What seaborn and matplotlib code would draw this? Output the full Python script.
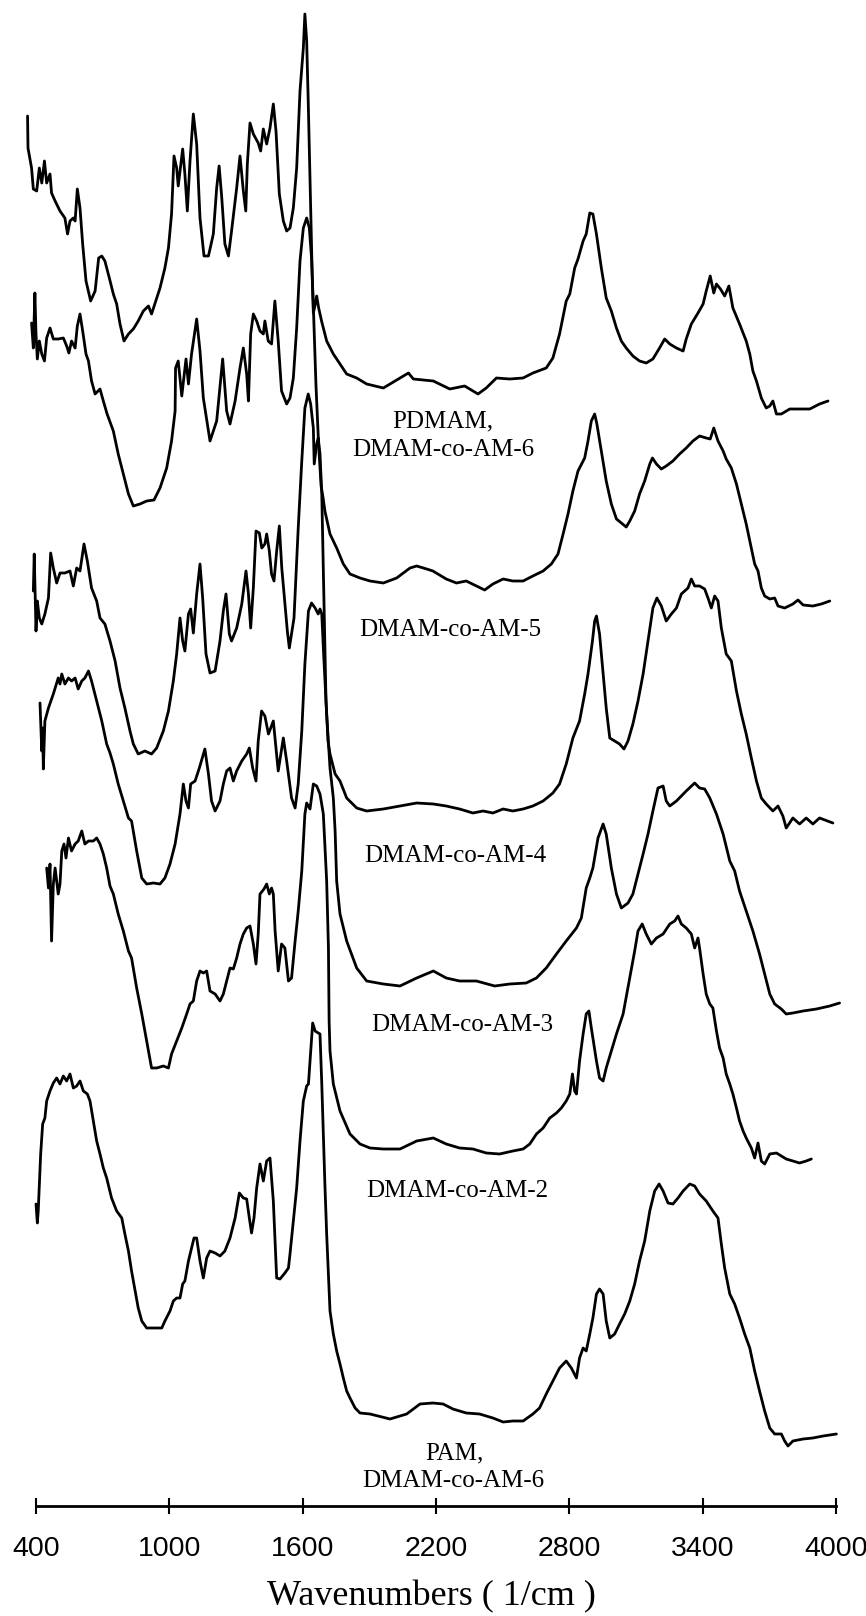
"""FTIR spectra of PDMAM, DMAM-co-AM copolymers and PAM (stacked, offset)."""

import matplotlib
matplotlib.use("Agg")
import matplotlib.pyplot as plt
import seaborn as sns

# (wavenumber 1/cm, transmittance a.u. incl. stacking offset)
spec_pdmam = [
    (362, 1390), (364, 1358), (380, 1338), (388, 1317), (403, 1315), (415, 1338), (426, 1323),
    (438, 1345), (448, 1323), (463, 1332), (470, 1313), (486, 1305), (508, 1295), (530, 1288),
    (542, 1272), (553, 1285), (568, 1288), (576, 1285), (586, 1317), (598, 1298), (610, 1262),
    (625, 1225), (646, 1205), (666, 1215), (682, 1248), (696, 1250), (710, 1245), (730, 1228),
    (748, 1212), (763, 1202), (778, 1182), (796, 1165), (816, 1172), (838, 1177), (860, 1185),
    (883, 1195), (906, 1200), (920, 1192), (936, 1203), (958, 1218), (980, 1238), (996, 1258),
    (1010, 1292), (1021, 1350), (1033, 1338), (1040, 1320), (1060, 1357), (1070, 1332),
    (1081, 1295), (1093, 1345), (1108, 1392), (1123, 1362), (1138, 1288), (1156, 1250),
    (1176, 1250), (1198, 1272), (1213, 1318), (1224, 1340), (1236, 1308), (1250, 1262),
    (1266, 1250), (1280, 1275), (1303, 1318), (1318, 1350), (1333, 1315), (1344, 1295),
    (1351, 1342), (1363, 1383), (1378, 1372), (1400, 1363), (1411, 1355), (1423, 1377),
    (1438, 1362), (1453, 1378), (1468, 1402), (1480, 1375), (1495, 1312), (1513, 1285),
    (1528, 1275), (1543, 1278), (1558, 1298), (1573, 1338), (1588, 1415), (1603, 1458),
    (1610, 1492), (1618, 1465), (1625, 1405), (1635, 1310), (1643, 1230), (1648, 1193),
    (1655, 1200), (1663, 1210), (1672, 1198), (1685, 1185), (1708, 1165), (1738, 1152),
    (1768, 1142), (1798, 1132), (1843, 1128), (1888, 1122), (1963, 1118), (2038, 1128),
    (2076, 1133), (2098, 1127), (2188, 1125), (2262, 1117), (2329, 1120), (2389, 1112),
    (2426, 1118), (2472, 1128), (2532, 1127), (2592, 1128), (2636, 1133), (2696, 1138),
    (2726, 1148), (2756, 1172), (2786, 1205), (2802, 1212), (2824, 1238), (2839, 1247),
    (2862, 1265), (2876, 1272), (2892, 1293), (2906, 1292), (2922, 1272), (2944, 1238),
    (2966, 1208), (2989, 1195), (3012, 1178), (3034, 1165), (3056, 1158), (3086, 1150),
    (3116, 1145), (3146, 1143), (3176, 1147), (3206, 1158), (3229, 1167), (3252, 1162),
    (3282, 1158), (3312, 1155), (3326, 1167), (3349, 1182), (3379, 1193), (3402, 1202),
    (3416, 1215), (3434, 1230), (3450, 1213), (3462, 1222), (3480, 1217), (3499, 1210),
    (3518, 1220), (3536, 1198), (3566, 1182), (3596, 1165), (3612, 1152), (3626, 1135),
    (3642, 1125), (3664, 1108), (3686, 1098), (3702, 1100), (3716, 1105), (3732, 1092),
    (3754, 1092), (3792, 1097), (3836, 1097), (3882, 1097), (3926, 1102), (3964, 1105),
]

spec_am6 = [
    (380, 1183), (388, 1158), (395, 1213), (400, 1172), (406, 1147), (415, 1165), (426, 1152),
    (438, 1145), (448, 1168), (463, 1178), (478, 1167), (500, 1167), (523, 1168), (538, 1160),
    (548, 1153), (560, 1165), (576, 1158), (586, 1180), (598, 1192), (610, 1175), (625, 1152),
    (636, 1145), (650, 1125), (666, 1112), (688, 1117), (703, 1105), (720, 1092), (748, 1075),
    (770, 1052), (793, 1032), (816, 1012), (838, 1000), (868, 1002), (898, 1005), (931, 1006),
    (958, 1018), (988, 1038), (1010, 1065), (1026, 1095), (1028, 1138), (1040, 1145),
    (1056, 1110), (1075, 1147), (1086, 1122), (1100, 1152), (1123, 1187), (1138, 1155),
    (1153, 1108), (1183, 1065), (1213, 1085), (1240, 1147), (1258, 1095), (1273, 1082),
    (1296, 1105), (1318, 1138), (1333, 1158), (1348, 1132), (1356, 1105), (1366, 1172),
    (1378, 1192), (1393, 1185), (1408, 1175), (1423, 1172), (1430, 1185), (1445, 1165),
    (1460, 1162), (1475, 1205), (1490, 1165), (1505, 1115), (1528, 1102), (1543, 1108),
    (1558, 1128), (1573, 1178), (1588, 1245), (1603, 1278), (1618, 1288), (1630, 1278),
    (1640, 1248), (1648, 1200), (1660, 1120), (1672, 1060), (1683, 1020), (1692, 1008),
    (1700, 995), (1723, 972), (1753, 958), (1783, 942), (1813, 932), (1858, 928), (1903, 925),
    (1963, 923), (2023, 928), (2083, 938), (2113, 940), (2158, 937), (2186, 935), (2246, 927),
    (2292, 923), (2336, 925), (2382, 920), (2419, 916), (2456, 922), (2502, 927), (2546, 925),
    (2592, 925), (2636, 930), (2682, 935), (2719, 942), (2749, 952), (2772, 972), (2794, 992),
    (2816, 1015), (2839, 1035), (2869, 1048), (2884, 1065), (2899, 1085), (2914, 1092),
    (2924, 1082), (2944, 1055), (2966, 1025), (2989, 1002), (3012, 987), (3034, 983),
    (3056, 979), (3072, 985), (3094, 995), (3116, 1012), (3139, 1025), (3162, 1042),
    (3174, 1048), (3192, 1042), (3214, 1037), (3236, 1040), (3266, 1045), (3296, 1052),
    (3326, 1058), (3356, 1065), (3386, 1070), (3416, 1068), (3434, 1067), (3450, 1078),
    (3469, 1065), (3492, 1055), (3506, 1047), (3529, 1038), (3552, 1022), (3574, 1002),
    (3596, 982), (3619, 958), (3634, 942), (3649, 935), (3664, 918), (3679, 910), (3702, 907),
    (3724, 908), (3739, 900), (3769, 898), (3806, 902), (3829, 906), (3852, 901), (3896, 900),
    (3934, 902), (3972, 905),
]

spec_am5 = [
    (388, 915), (392, 952), (400, 875), (406, 905), (415, 888), (426, 882), (440, 892),
    (456, 908), (466, 953), (478, 938), (493, 923), (508, 933), (530, 933), (553, 935),
    (568, 920), (583, 938), (598, 935), (616, 962), (631, 945), (650, 918), (673, 905),
    (688, 888), (710, 882), (733, 865), (756, 845), (778, 818), (800, 798), (823, 775),
    (838, 762), (860, 752), (890, 755), (920, 752), (943, 758), (973, 775), (996, 795),
    (1018, 825), (1033, 852), (1048, 888), (1060, 865), (1070, 855), (1086, 892), (1096, 897),
    (1108, 873), (1123, 912), (1138, 942), (1150, 908), (1165, 852), (1183, 833), (1206, 835),
    (1228, 865), (1243, 895), (1255, 912), (1270, 872), (1280, 865), (1303, 878), (1326, 902),
    (1345, 935), (1356, 912), (1366, 878), (1378, 918), (1390, 975), (1405, 973), (1416, 958),
    (1430, 962), (1438, 972), (1450, 955), (1460, 932), (1471, 925), (1483, 955), (1495, 980),
    (1506, 938), (1520, 902), (1531, 875), (1540, 858), (1550, 872), (1561, 888), (1580, 978),
    (1596, 1045), (1610, 1098), (1625, 1112), (1636, 1102), (1648, 1078), (1652, 1042),
    (1663, 1062), (1670, 1068), (1678, 1052), (1686, 1012), (1696, 905), (1705, 805),
    (1714, 765), (1723, 752), (1746, 732), (1768, 725), (1798, 708), (1843, 698), (1888, 695),
    (1963, 697), (2038, 700), (2113, 703), (2188, 702), (2246, 700), (2306, 697), (2366, 693),
    (2412, 695), (2456, 693), (2502, 697), (2546, 695), (2592, 697), (2636, 700), (2682, 705),
    (2726, 713), (2756, 722), (2786, 742), (2816, 768), (2846, 785), (2869, 812), (2884, 832),
    (2904, 865), (2914, 885), (2922, 890), (2936, 872), (2952, 832), (2966, 798), (2982, 768),
    (3004, 765), (3026, 762), (3046, 757), (3064, 765), (3086, 782), (3109, 805), (3132, 832),
    (3154, 865), (3176, 898), (3194, 908), (3214, 900), (3236, 885), (3259, 892), (3282, 898),
    (3304, 912), (3334, 918), (3349, 927), (3364, 920), (3386, 920), (3409, 917), (3424, 908),
    (3439, 898), (3454, 910), (3469, 905), (3484, 878), (3506, 852), (3529, 845), (3552, 815),
    (3574, 792), (3596, 772), (3619, 748), (3642, 725), (3664, 708), (3686, 702), (3716, 695),
    (3739, 700), (3761, 690), (3776, 678), (3806, 688), (3836, 682), (3866, 688), (3896, 682),
    (3926, 688), (3986, 683),
]

spec_am4 = [
    (418, 803), (426, 755), (430, 778), (433, 737), (440, 785), (456, 798), (478, 812),
    (500, 828), (508, 822), (516, 832), (530, 822), (546, 828), (560, 825), (576, 828),
    (590, 817), (606, 825), (620, 828), (636, 835), (650, 825), (673, 805), (696, 785),
    (718, 762), (733, 753), (748, 742), (770, 722), (793, 705), (816, 688), (830, 685),
    (853, 655), (876, 628), (898, 622), (928, 623), (958, 622), (980, 628), (1003, 642),
    (1026, 662), (1048, 692), (1063, 722), (1075, 705), (1086, 698), (1096, 722), (1116, 725),
    (1135, 738), (1160, 757), (1176, 732), (1190, 705), (1206, 695), (1228, 705), (1243, 722),
    (1258, 735), (1273, 738), (1288, 725), (1303, 735), (1326, 745), (1348, 752), (1360, 758),
    (1375, 738), (1390, 725), (1400, 765), (1415, 795), (1430, 790), (1446, 772), (1468, 785),
    (1490, 735), (1513, 768), (1528, 745), (1550, 708), (1566, 698), (1580, 722), (1596, 775),
    (1610, 842), (1626, 895), (1640, 903), (1656, 898), (1670, 892), (1678, 897), (1686, 892),
    (1693, 858), (1708, 792), (1723, 738), (1738, 708), (1746, 675), (1753, 625), (1768, 592),
    (1798, 565), (1843, 538), (1888, 525), (1963, 522), (2038, 520), (2113, 528), (2188, 535),
    (2246, 528), (2306, 525), (2382, 525), (2464, 520), (2532, 522), (2606, 523), (2652, 528),
    (2696, 538), (2742, 552), (2786, 565), (2832, 578), (2854, 588), (2876, 618), (2892, 628),
    (2906, 638), (2929, 668), (2952, 682), (2966, 672), (2989, 638), (3012, 612), (3034, 598),
    (3064, 603), (3086, 612), (3109, 632), (3132, 652), (3154, 672), (3176, 695), (3199, 718),
    (3222, 720), (3236, 705), (3252, 700), (3282, 705), (3326, 715), (3364, 723), (3386, 718),
    (3409, 717), (3432, 708), (3462, 692), (3492, 672), (3522, 645), (3544, 635), (3566, 615),
    (3596, 595), (3626, 575), (3656, 552), (3679, 532), (3702, 512), (3724, 502), (3754, 497),
    (3776, 492), (3806, 493), (3852, 495), (3912, 497), (3972, 500), (4016, 503),
]

spec_am3 = [
    (448, 638), (456, 618), (463, 642), (470, 565), (478, 622), (486, 638), (500, 612),
    (508, 622), (516, 655), (526, 662), (535, 648), (546, 668), (560, 655), (576, 662),
    (590, 665), (606, 675), (620, 662), (636, 665), (658, 665), (673, 668), (688, 662),
    (703, 652), (718, 638), (733, 620), (748, 612), (770, 592), (793, 575), (816, 555),
    (830, 548), (853, 518), (876, 492), (898, 465), (920, 438), (943, 438), (973, 440),
    (996, 438), (1010, 452), (1033, 465), (1056, 478), (1078, 492), (1093, 502), (1108, 505),
    (1123, 525), (1138, 535), (1153, 533), (1168, 535), (1183, 515), (1206, 512), (1228, 505),
    (1243, 512), (1258, 525), (1273, 538), (1288, 537), (1303, 548), (1318, 562), (1333, 572),
    (1348, 578), (1363, 580), (1378, 562), (1390, 542), (1400, 572), (1408, 612), (1426, 617),
    (1438, 622), (1450, 612), (1460, 618), (1468, 612), (1476, 575), (1490, 535), (1505, 562),
    (1520, 558), (1536, 525), (1550, 528), (1566, 565), (1580, 595), (1596, 635), (1610, 692),
    (1618, 703), (1633, 697), (1648, 722), (1663, 720), (1678, 712), (1693, 692), (1708, 625),
    (1716, 558), (1719, 485), (1723, 455), (1738, 422), (1768, 395), (1813, 372), (1858, 362),
    (1903, 358), (1963, 357), (2038, 357), (2113, 365), (2188, 368), (2246, 362), (2306, 358),
    (2366, 357), (2426, 353), (2486, 352), (2546, 355), (2592, 357), (2622, 362), (2652, 372),
    (2682, 378), (2712, 388), (2742, 393), (2764, 398), (2786, 405), (2802, 412), (2814, 432),
    (2824, 415), (2832, 412), (2846, 445), (2862, 472), (2876, 492), (2888, 495), (2899, 478),
    (2922, 445), (2936, 428), (2952, 425), (2966, 438), (2989, 455), (3012, 472), (3042, 492),
    (3072, 528), (3094, 555), (3109, 575), (3128, 582), (3146, 572), (3169, 562), (3192, 568),
    (3222, 572), (3252, 582), (3274, 585), (3289, 590), (3304, 582), (3326, 578), (3349, 572),
    (3364, 558), (3379, 568), (3386, 558), (3402, 532), (3416, 512), (3432, 502), (3446, 498),
    (3462, 475), (3476, 458), (3492, 448), (3506, 432), (3522, 422), (3536, 412), (3552, 398),
    (3566, 385), (3582, 375), (3596, 368), (3619, 358), (3634, 348), (3649, 363), (3664, 345),
    (3679, 342), (3702, 352), (3732, 353), (3754, 350), (3776, 347), (3806, 345), (3836, 343),
    (3866, 345), (3889, 347),
]

spec_pam = [
    (400, 302), (406, 283), (410, 295), (415, 322), (421, 352), (430, 382), (440, 388),
    (448, 405), (463, 415), (478, 423), (493, 428), (508, 422), (523, 430), (538, 425),
    (553, 432), (568, 418), (583, 420), (598, 425), (613, 415), (631, 412), (643, 405),
    (658, 385), (673, 365), (688, 352), (703, 338), (718, 328), (740, 308), (763, 295),
    (786, 288), (800, 272), (816, 255), (830, 235), (846, 215), (860, 198), (876, 185),
    (898, 178), (928, 178), (966, 178), (980, 185), (1003, 195), (1018, 205), (1033, 208),
    (1048, 208), (1060, 222), (1070, 225), (1086, 245), (1100, 258), (1111, 268), (1123, 268),
    (1138, 245), (1153, 228), (1168, 248), (1183, 255), (1206, 253), (1228, 250), (1250, 255),
    (1273, 268), (1296, 288), (1315, 313), (1333, 308), (1348, 307), (1360, 288), (1370, 273),
    (1381, 288), (1393, 318), (1408, 342), (1423, 325), (1438, 345), (1453, 348), (1468, 305),
    (1483, 228), (1498, 227), (1520, 233), (1536, 238), (1543, 252), (1558, 285), (1573, 318),
    (1588, 365), (1603, 405), (1618, 420), (1626, 422), (1633, 445), (1645, 483), (1656, 475),
    (1670, 473), (1678, 472), (1686, 422), (1693, 372), (1700, 322), (1708, 272), (1723, 195),
    (1738, 172), (1753, 155), (1768, 142), (1783, 128), (1798, 115), (1813, 108), (1836, 98),
    (1858, 93), (1903, 92), (1993, 87), (2068, 92), (2128, 102), (2186, 103), (2232, 102),
    (2276, 97), (2336, 93), (2396, 92), (2456, 88), (2502, 84), (2546, 85), (2592, 85),
    (2636, 92), (2666, 98), (2696, 112), (2726, 125), (2756, 138), (2786, 145), (2809, 138),
    (2832, 128), (2846, 148), (2862, 158), (2876, 155), (2892, 172), (2906, 188), (2922, 212),
    (2936, 217), (2952, 212), (2966, 185), (2982, 168), (3004, 172), (3026, 182), (3049, 192),
    (3072, 205), (3094, 222), (3116, 245), (3139, 265), (3162, 295), (3184, 315), (3204, 322),
    (3222, 315), (3244, 303), (3266, 302), (3289, 308), (3312, 315), (3342, 322), (3364, 320),
    (3386, 312), (3416, 305), (3446, 295), (3469, 288), (3484, 262), (3499, 238), (3522, 212),
    (3544, 202), (3566, 188), (3589, 172), (3612, 158), (3634, 135), (3656, 115), (3679, 95),
    (3702, 78), (3724, 72), (3754, 72), (3769, 65), (3784, 60), (3806, 65), (3852, 67),
    (3896, 68), (3942, 70), (4002, 72),
]

spectra = [spec_pdmam, spec_am6, spec_am5, spec_am4, spec_am3, spec_pam]
xticks = [400, 1000, 1600, 2200, 2800, 3400, 4000]
labels = ["PDMAM,", "DMAM-co-AM-6", "DMAM-co-AM-5", "DMAM-co-AM-4",
          "DMAM-co-AM-3", "DMAM-co-AM-2", "PAM,", "DMAM-co-AM-6"]

sns.set_theme(style="white")
plt.rcParams["font.family"] = ["Liberation Sans", "DejaVu Sans"]

fig = plt.figure(figsize=(8.66, 16.16), dpi=100)
ax = fig.add_axes([0, 110 / 1616, 1, 1506 / 1616])

for spec in spectra:
    wn = [p[0] for p in spec]
    tr = [p[1] for p in spec]
    sns.lineplot(x=wn, y=tr, sort=False, estimator=None, color="black",
                 linewidth=2.0, ax=ax)

ax.set_xlim(238, 4135)
ax.set_ylim(0, 1506)
ax.set_yticks([])
ax.set_xticks(xticks)
ax.set_xticklabels([str(t) for t in xticks])
for side in ["left", "top", "right"]:
    ax.spines[side].set_visible(False)
ax.spines["bottom"].set_bounds(400, 4000)
ax.spines["bottom"].set_linewidth(2.0)
ax.spines["bottom"].set_color("black")
ax.tick_params(axis="x", direction="inout", length=11, width=1.5, pad=16,
               labelsize=20.5, colors="black", bottom=True)
ax.set_xlabel("Wavenumbers ( 1/cm )", fontfamily="Liberation Serif", fontsize=26,
              color="black", va="center")
ax.xaxis.set_label_coords(431 / 866, (1506 - 1597) / 1506)

# curve labels: (wavenumber, height) of the text baseline
label_pos = [(2231, 1079), (2231, 1050), (2263, 870), (2285, 644),
             (2317, 475), (2294, 309), (2281, 47), (2276, 19)]
for text, (lx, ly) in zip(labels, label_pos):
    ax.text(lx, ly, text, ha="center", va="baseline", fontsize=18,
            fontfamily="Liberation Serif", color="black")

fig.savefig("out.png", dpi=100)
